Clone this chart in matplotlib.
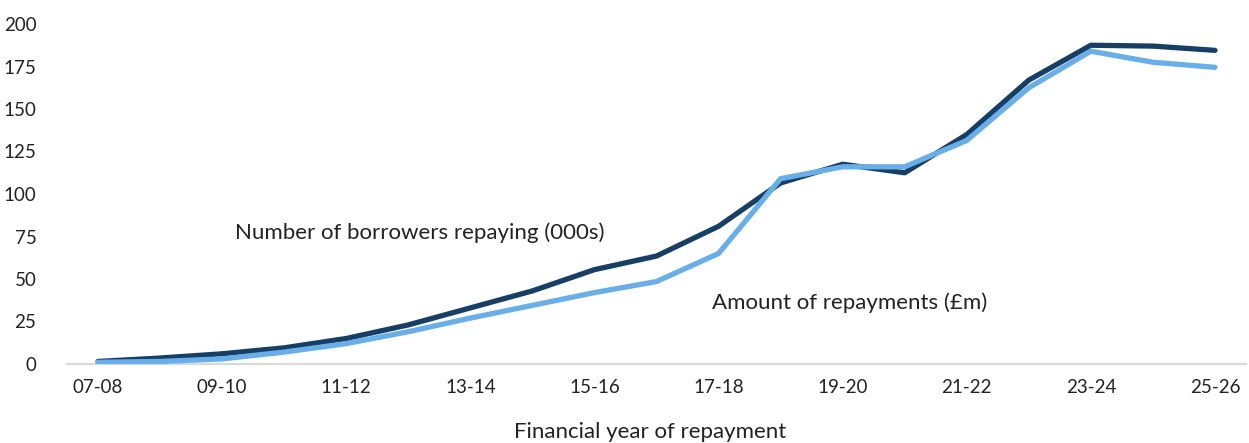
import matplotlib
matplotlib.use("Agg")
import matplotlib.pyplot as plt

years = ["07-08", "08-09", "09-10", "10-11", "11-12", "12-13", "13-14", "14-15",
         "15-16", "16-17", "17-18", "18-19", "19-20", "20-21", "21-22", "22-23",
         "23-24", "24-25", "25-26"]
borrowers = [1.5, 3.5, 6, 9.5, 15, 23, 33, 43, 55.5, 63.5, 81, 106.5, 117.5, 112.5,
             135, 167, 187.5, 187, 184.5]
repayments = [1, 1.5, 3, 7, 12, 19, 27, 34.5, 42, 48.5, 65, 109, 116, 116,
              131.5, 162.5, 184, 177.5, 174.5]
yticks = [0, 25, 50, 75, 100, 125, 150, 175, 200]

plt.rcParams['font.family'] = ['Lato', 'DejaVu Sans']

fig = plt.figure(figsize=(12.49, 4.43), dpi=100)
ax = fig.add_axes([67/1249, (443-364)/443, 1179/1249, 340/443])

x = list(range(len(years)))
ax.plot(x, borrowers, color="#173F66", lw=3.8, solid_capstyle="round", solid_joinstyle="round", zorder=3)
ax.plot(x, repayments, color="#68AEE8", lw=3.8, solid_capstyle="round", solid_joinstyle="round", zorder=4)

ax.set_xlim(-0.5, len(years) - 0.5)
ax.set_ylim(0, 200)
ax.set_yticks(yticks)
ax.set_yticklabels([str(v) for v in yticks])
ax.set_xticks(x[::2])
ax.set_xticklabels(years[::2])
ax.tick_params(axis="both", length=0, labelsize=13.5, colors="#222222")
ax.tick_params(axis="x", pad=11)
ax.tick_params(axis="y", pad=22)
for s in ["top", "right", "left"]:
    ax.spines[s].set_visible(False)
ax.spines["bottom"].set_color("#D9D9D9")
ax.spines["bottom"].set_linewidth(1.6)
ax.spines["bottom"].set_zorder(1)

ax.text(2.2, 77, "Number of borrowers repaying (000s)", fontsize=16, color="#222222",
        ha="left", va="center")
ax.text(9.9, 36, "Amount of repayments (£m)", fontsize=16, color="#222222",
        ha="left", va="center")
fig.text(650/1249, 1 - 432/443, "Financial year of repayment", fontsize=16,
         color="#222222", ha="center", va="center")

fig.savefig("out.png", dpi=100)
